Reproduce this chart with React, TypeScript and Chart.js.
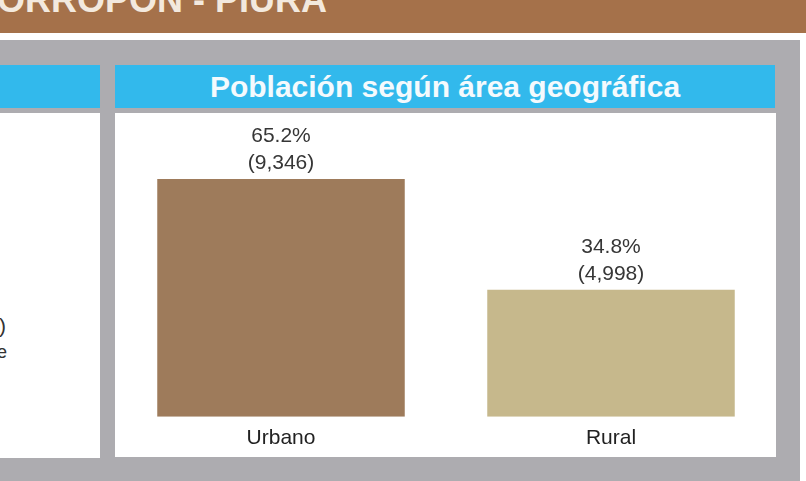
import React, { useEffect, useRef } from "react";
import { Chart, registerables } from "chart.js";

Chart.register(...registerables);

const categories = ["Urbano", "Rural"];
const percentages = [65.2, 34.8];
const counts = [9346, 4998];
const barColors = ["#9E7B5B", "#C6B88C"];
const yMax = 80;

const FONT = "'Liberation Sans', Arial, sans-serif";

const labelPlugin = {
  id: "barLabels",
  afterDatasetsDraw(chart: any) {
    const ctx = chart.ctx;
    const meta = chart.getDatasetMeta(0);
    ctx.save();
    ctx.fillStyle = "#363636";
    ctx.font = `21px ${FONT}`;
    ctx.textAlign = "center";
    ctx.textBaseline = "middle";
    meta.data.forEach((bar: any, i: number) => {
      const x = bar.x;
      const y = bar.y;
      ctx.fillText(`${percentages[i].toFixed(1)}%`, x, y - 43);
      ctx.fillText(`(${counts[i].toLocaleString("en-US")})`, x, y - 16);
    });
    ctx.restore();
  },
};

function BarChart() {
  const ref = useRef<HTMLCanvasElement | null>(null);
  useEffect(() => {
    if (!ref.current) return;
    const chart = new Chart(ref.current, {
      type: "bar",
      data: {
        labels: categories,
        datasets: [
          {
            data: percentages,
            backgroundColor: barColors,
            borderWidth: 0,
            barPercentage: 0.75,
            categoryPercentage: 1,
          },
        ],
      },
      options: {
        responsive: false,
        animation: false,
        layout: { padding: { top: 12, left: 0, right: 0, bottom: 0 } },
        plugins: {
          legend: { display: false },
          tooltip: { enabled: false },
          title: { display: false },
        },
        scales: {
          x: {
            grid: { display: false, drawTicks: false },
            border: { display: false },
            ticks: {
              color: "#222222",
              font: { family: FONT, size: 21 },
              padding: 9,
            },
          },
          y: {
            display: false,
            min: 0,
            max: yMax,
          },
        },
      },
      plugins: [labelPlugin],
    });
    return () => chart.destroy();
  }, []);
  return (
    <canvas
      ref={ref}
      width={660}
      height={347}
      style={{ position: "absolute", left: 116, top: 113, width: 660, height: 347 }}
    />
  );
}

export default function App() {
  return (
    <div
      style={{
        position: "fixed",
        left: 0,
        top: 0,
        width: 806,
        height: 481,
        overflow: "hidden",
        background: "#FFFFFF",
        fontFamily: FONT,
      }}
    >
      {/* top brown band */}
      <div style={{ position: "absolute", left: 0, top: 0, width: 806, height: 33, background: "#A5714A", overflow: "hidden" }}>
        <div
          style={{
            position: "absolute",
            left: -33,
            top: -20,
            fontSize: 36,
            fontWeight: "bold",
            color: "#F3E9DE",
            whiteSpace: "nowrap",
            lineHeight: "40px",
          }}
        >
          MORROPÓN - PIURA
        </div>
      </div>
      {/* gray background */}
      <div style={{ position: "absolute", left: 0, top: 40, width: 800, height: 441, background: "#ADACB0" }} />
      {/* left panel */}
      <div style={{ position: "absolute", left: 0, top: 65, width: 100, height: 43, background: "#32B9EC" }} />
      <div style={{ position: "absolute", left: 0, top: 113, width: 100, height: 345, background: "#FFFFFF", overflow: "hidden" }}>
        <div style={{ position: "absolute", right: 94, top: 199, fontSize: 21, color: "#333", whiteSpace: "nowrap", lineHeight: "27px", textAlign: "right" }}>
          (1,234)
        </div>
        <div style={{ position: "absolute", right: 93, top: 229, fontSize: 18, color: "#333", whiteSpace: "nowrap", lineHeight: "20px", textAlign: "right" }}>
          de
        </div>
      </div>
      {/* right panel */}
      <div
        style={{
          position: "absolute",
          left: 115,
          top: 65,
          width: 660,
          height: 43,
          background: "#32B9EC",
          display: "flex",
          alignItems: "center",
          justifyContent: "center",
          color: "#F4FAFD",
          fontWeight: "bold",
          fontSize: 30,
          whiteSpace: "nowrap",
        }}
      >
        Población según área geográfica
      </div>
      <div style={{ position: "absolute", left: 115, top: 113, width: 661, height: 344, background: "#FFFFFF" }} />
      <BarChart />
    </div>
  );
}
